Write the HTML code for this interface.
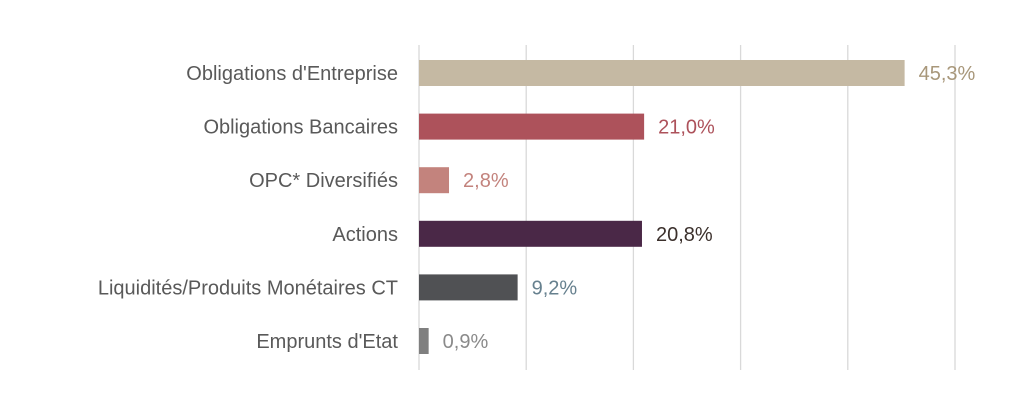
<!DOCTYPE html>
<html><head><meta charset="utf-8"><style>
body{margin:0;background:#fff;}
svg{display:block;font-family:"Liberation Sans",sans-serif;}
</style></head><body>
<svg id="chart" width="1023" height="405"></svg>
<script>
const categories=["Obligations d'Entreprise","Obligations Bancaires","OPC* Diversifiés","Actions","Liquidités/Produits Monétaires CT","Emprunts d'Etat"];
const values=[45.3,21.0,2.8,20.8,9.2,0.9];
const valueLabels=["45,3%","21,0%","2,8%","20,8%","9,2%","0,9%"];
const gridTicks=[0,10,20,30,40,50];
const barColors=["#c5b9a3","#ad525b","#c3837d","#4a2847","#505154","#7f7f7f"];
const labelColors=["#a8977a","#ad525b","#c3837d","#3b302c","#66808e","#8a8a8a"];
const svg=document.getElementById('chart');
const NS="http://www.w3.org/2000/svg";
const x0=419,pxPer=10.72;
const xs=v=>x0+v*pxPer;
const ys=i=>73+i*53.6;
function mk(t,a){const e=document.createElementNS(NS,t);for(const k in a)e.setAttribute(k,a[k]);svg.appendChild(e);return e;}
gridTicks.forEach(t=>{
 const l=mk('line',{x1:xs(t),x2:xs(t),y1:45,y2:370,stroke:'#d9d9d9','stroke-width':1.3});
 
 
});
categories.forEach((c,i)=>{
 const y=ys(i);
 const lab=mk('text',{x:398,y:y+7,'text-anchor':'end','font-size':20,fill:'#595959'});
 lab.textContent=c;
 
 
 const r=mk('rect',{x:x0,y:y-13,width:xs(values[i])-x0,height:26,fill:barColors[i]});
 
 
 const v=mk('text',{x:xs(values[i])+14,y:y+7,'font-size':20,fill:labelColors[i]});
 v.textContent=valueLabels[i];
 
 
});
</script>
</body></html>
